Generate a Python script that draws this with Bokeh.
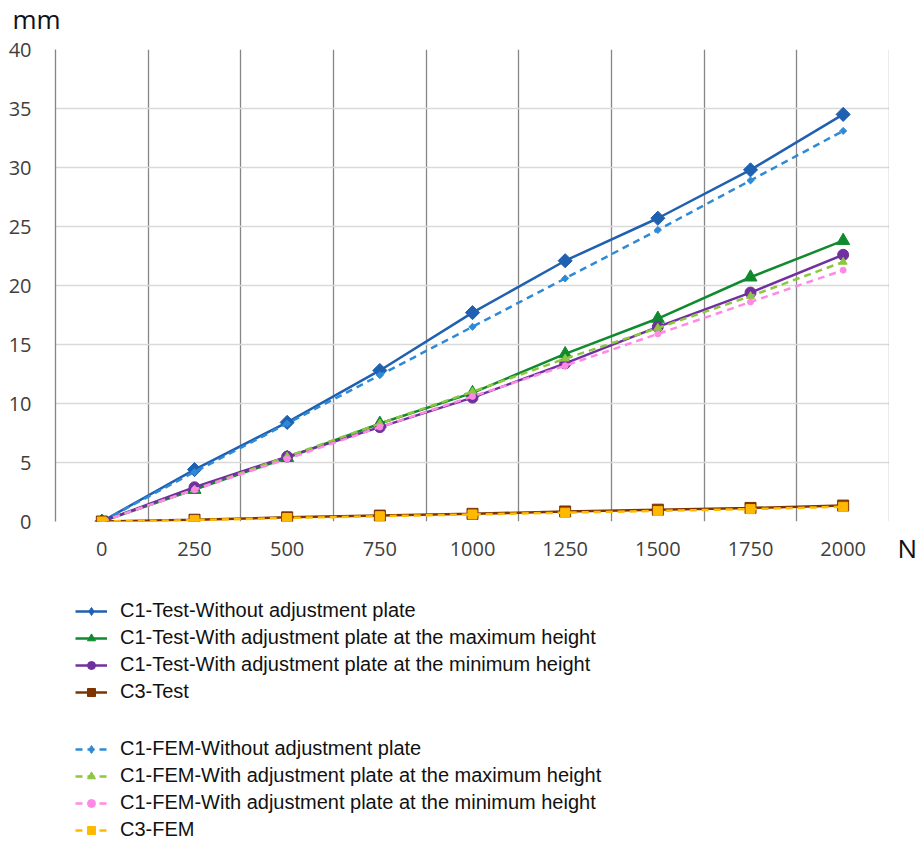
import math
from bokeh.plotting import figure
from bokeh.layouts import column, row
from bokeh.models import (FixedTicker, Legend, LegendItem, Span, Range1d, Title)
from bokeh.embed import file_html
from bokeh.resources import INLINE

# ---- data ----
force_n = [0, 250, 500, 750, 1000, 1250, 1500, 1750, 2000]
y_ticks = [0, 5, 10, 15, 20, 25, 30, 35, 40]

c1_test_without = [0.0, 4.4, 8.4, 12.8, 17.7, 22.1, 25.7, 29.8, 34.5]
c1_test_max = [0.0, 2.7, 5.4, 8.3, 10.9, 14.2, 17.2, 20.7, 23.8]
c1_test_min = [0.0, 2.9, 5.5, 8.0, 10.5, 13.4, 16.5, 19.4, 22.6]
c3_test = [0.0, 0.15, 0.35, 0.5, 0.65, 0.85, 1.0, 1.15, 1.35]

c1_fem_without = [0.0, 4.2, 8.3, 12.4, 16.5, 20.6, 24.7, 28.9, 33.1]
c1_fem_max = [0.0, 2.7, 5.5, 8.3, 11.0, 13.8, 16.4, 19.1, 22.0]
c1_fem_min = [0.0, 2.7, 5.3, 8.0, 10.6, 13.2, 15.9, 18.6, 21.3]
c3_fem = [0.0, 0.12, 0.3, 0.45, 0.6, 0.75, 0.9, 1.05, 1.25]

test_names = ["C1-Test-Without adjustment plate",
              "C1-Test-With adjustment plate at the maximum height",
              "C1-Test-With adjustment plate at the minimum height",
              "C3-Test"]
fem_names = ["C1-FEM-Without adjustment plate",
             "C1-FEM-With adjustment plate at the maximum height",
             "C1-FEM-With adjustment plate at the minimum height",
             "C3-FEM"]
y_unit = "mm"
x_unit = "N"

step = force_n[1] - force_n[0]
x_lo = force_n[0] - step / 2
x_hi = force_n[-1] + step / 2

W, H = 919, 845
TOP_H = 38
FRAME_L, FRAME_W, FRAME_H = 55, 834, 474
MAIN_TOP = 11
MAIN_H = 537
RIGHT_W = W - FRAME_L - FRAME_W
LEG_H = H - TOP_H - MAIN_H


def blank_fig(w, h):
    f = figure(width=w, height=h, output_backend="svg", toolbar_location=None,
               x_range=Range1d(0, 1), y_range=Range1d(0, 1),
               min_border=0, x_axis_type=None, y_axis_type=None)
    f.outline_line_color = None
    f.grid.visible = False
    return f


# ---- top strip with the y unit ----
ptop = blank_fig(W, TOP_H)
ptop.title = Title(text=y_unit, align="left", offset=12, text_font="Open Sans",
                   text_font_size="26px", text_font_style="normal",
                   text_color="#111111", standoff=0, vertical_align="top")

# ---- main chart ----
p = figure(width=FRAME_L + FRAME_W, height=MAIN_H, output_backend="svg", toolbar_location=None,
           title=None, x_range=Range1d(x_lo, x_hi), y_range=Range1d(0, 40),
           min_border_left=FRAME_L, min_border_top=MAIN_TOP,
           min_border_right=0, min_border_bottom=MAIN_H - MAIN_TOP - FRAME_H)
p.outline_line_color = None
p.border_fill_color = "white"

p.xgrid.ticker = FixedTicker(ticks=[x + step / 2 for x in force_n])
p.xgrid.grid_line_color = "#868686"
p.xgrid.grid_line_width = 1.3
p.ygrid.ticker = FixedTicker(ticks=y_ticks)
p.ygrid.grid_line_color = "#D9D9D9"
p.ygrid.grid_line_width = 1.6

p.xaxis.ticker = FixedTicker(ticks=force_n)
p.xaxis.axis_line_color = None
p.xaxis.major_tick_line_color = None
p.xaxis.minor_tick_line_color = None
p.xaxis.major_label_text_font = "Open Sans"
p.xaxis.major_label_text_font_size = "20px"
p.xaxis.major_label_text_color = "#404040"
p.xaxis.major_label_standoff = 14

p.yaxis.ticker = FixedTicker(ticks=y_ticks)
p.yaxis.axis_line_color = "#868686"
p.yaxis.axis_line_width = 1.3
p.yaxis.major_tick_line_color = None
p.yaxis.minor_tick_line_color = None
p.yaxis.major_label_text_font = "Open Sans"
p.yaxis.major_label_text_font_size = "20px"
p.yaxis.major_label_text_color = "#404040"
p.yaxis.major_label_standoff = 18

p.add_layout(Span(location=x_hi, dimension="height", line_color="#868686", line_width=1.3))

# (values, colour, chart marker, chart angle, chart size, legend marker, legend size)
test_specs = [
    (c1_test_without, "#2060B0", "square", math.pi / 4, 10, "diamond", 13),
    (c1_test_max, "#108A2E", "triangle", 0, 13, "triangle", 11),
    (c1_test_min, "#7030A0", "circle", 0, 11, "circle", 9),
    (c3_test, "#7F3300", "square", 0, 11, "square", 10),
]
fem_specs = [
    (c1_fem_without, "#2E8AD6", "square", math.pi / 4, 5, "diamond", 7),
    (c1_fem_max, "#8DC63F", "triangle", 0, 8, "triangle", 8),
    (c1_fem_min, "#FF8AE6", "circle", 0, 6, "circle", 6),
    (c3_fem, "#FFB900", "square", 0, 9, "square", 8),
]

# ---- x unit, right of the plot area ----
pn = blank_fig(RIGHT_W, MAIN_H)
pn.add_layout(Title(text=x_unit, align="left", offset=8, text_font="Open Sans",
                    text_font_size="26px", text_font_style="normal",
                    text_color="#111111", standoff=16, vertical_align="top"), "below")

# ---- legend area below ----
pl = blank_fig(W, LEG_H)
pl.x_range = Range1d(-3, -2)   # the legend's own renderers stay out of view


def add_series(specs, names, dash):
    items = []
    for (vals, col, mk, ang, sz, lmk, lsz), name in zip(specs, names):
        p.line(force_n, vals, line_color=col, line_width=2.5, line_dash=dash)
        p.scatter(force_n, vals, marker=mk, angle=ang, size=sz, fill_color=col, line_color=col)
        l1 = pl.line(force_n, vals, line_color=col, line_width=2.5, line_dash=dash)
        l2 = pl.scatter(force_n, vals, marker=lmk, size=lsz, fill_color=col, line_color=col)
        items.append(LegendItem(label=name, renderers=[l1, l2]))
    return items


test_items = add_series(test_specs, test_names, "solid")
fem_items = add_series(fem_specs, fem_names, "7 5")


def make_legend(items, loc):
    return Legend(items=items, location=loc, orientation="vertical",
                  label_text_font="Liberation Sans", label_text_font_size="20px",
                  label_text_color="#111111", glyph_width=32, glyph_height=20,
                  label_height=20, label_standoff=13, spacing=4, padding=0, margin=0,
                  border_line_color=None, background_fill_alpha=0)


pl.add_layout(make_legend(test_items, (75, 142)), "center")
pl.add_layout(make_legend(fem_items, (75, 4)), "center")

layout = column(ptop, row(p, pn, spacing=0), pl, spacing=0)
open("out.html", "w").write(file_html(layout, INLINE))
